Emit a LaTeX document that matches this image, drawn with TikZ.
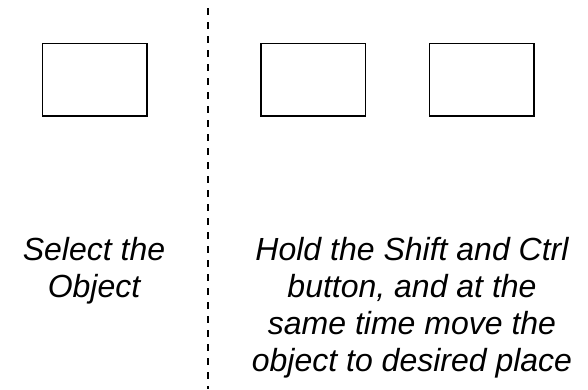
\documentclass[tikz,border=0pt]{standalone}
\usepackage{fontspec}
\setmainfont{Liberation Sans}
\begin{document}
\begin{tikzpicture}[x=1pt,y=1pt,
  box/.style={draw=black,line width=1.5pt,minimum width=104.5pt,minimum height=72.5pt,inner sep=0pt},
  divider/.style={draw=black,line width=2pt,dash pattern=on 6.7pt off 7.3pt},
  caption/.style={align=center,font=\fontsize{32}{37}\selectfont\itshape,inner sep=0pt,anchor=north}]
\useasboundingbox (0,0) rectangle (588,-389);
\node[box] (b1) at (94.7,-79.5) {};
\node[box] (b2) at (313.2,-79.5) {};
\node[box] (b3) at (481.5,-79.5) {};
\coordinate (dtop) at (208.3,-8);
\coordinate (dbot) at (208.3,-389);
\draw[divider] (dtop) -- (dbot);
\node[caption] (t1) at (94,-237.5) {Select the\\Object};
\node[caption] (t2) at (412,-237.5) {Hold the Shift and Ctrl\\button, and at the\\same time move the\\object to desired place};
\end{tikzpicture}
\end{document}
